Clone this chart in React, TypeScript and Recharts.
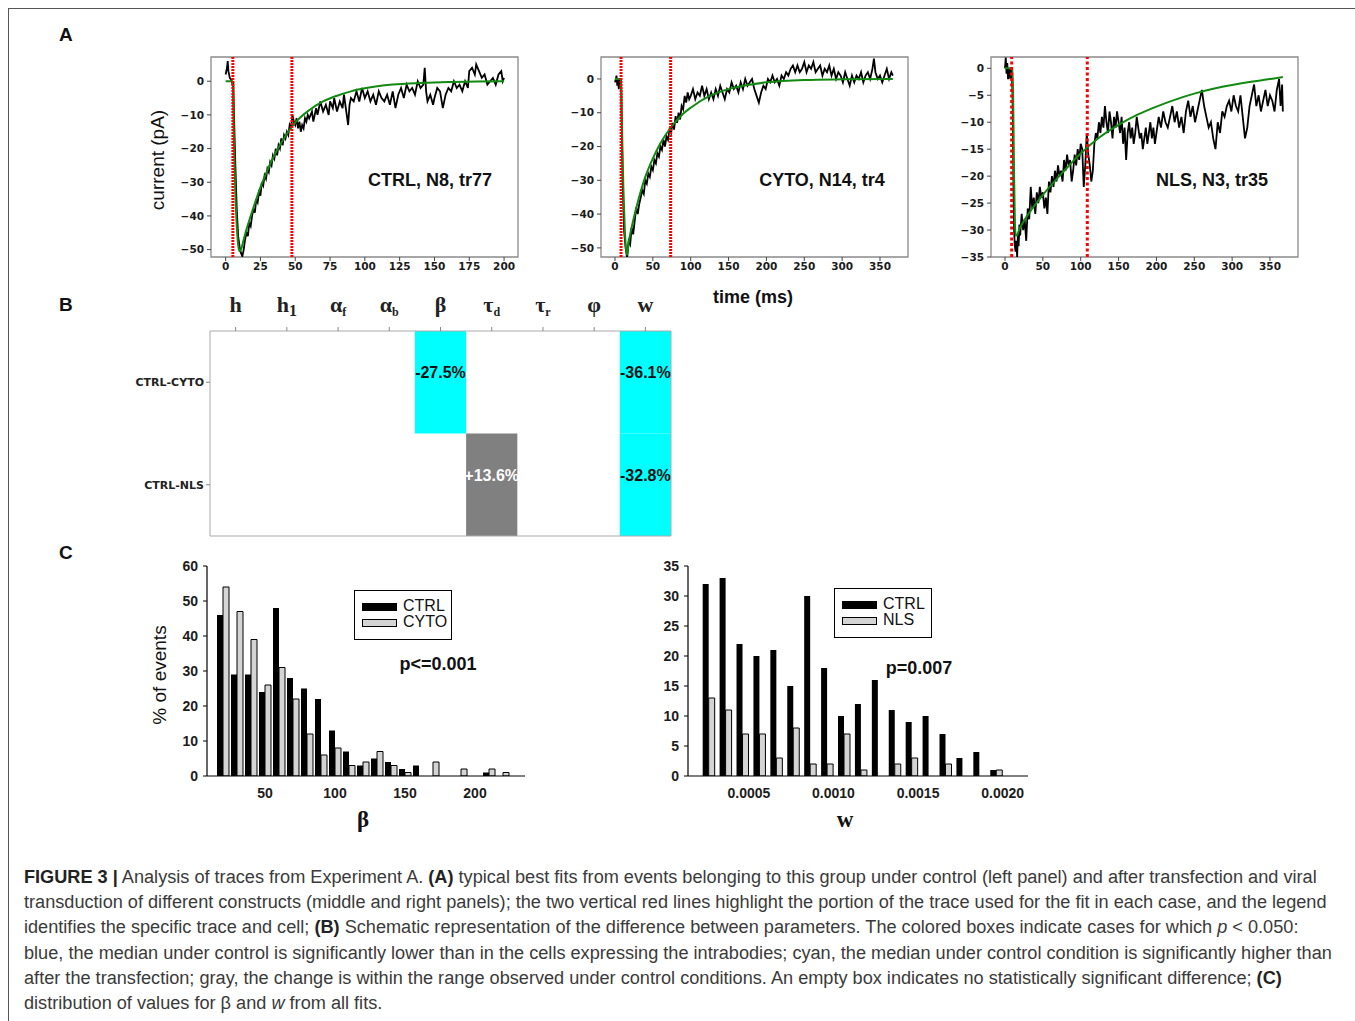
import React from 'react';
import {
  LineChart, Line, XAxis, YAxis, ReferenceLine, ReferenceArea,
  BarChart, Bar, ComposedChart, Scatter,
} from 'recharts';

const SANS = '"Liberation Sans", Arial, Helvetica, sans-serif';
const DEJAVU = '"DejaVu Sans", sans-serif';
const SERIF = '"Liberation Serif", "DejaVu Serif", serif';
const NARROW = '"Liberation Sans Narrow", "Liberation Sans", sans-serif';

// ---------------- Panel A data ----------------
const traceCtrl: number[][] = [
  [0,2],[1,4],[1.5,6],[2,3],[3,1],[4,0.5],[5,-1],[5.5,0],[6,-10],[7,-25],[8,-38],[9,-46],[10,-49],[11,-51],[12,-52],[13,-50],[14,-47],[15,-45],[16,-46],[17,-42],[18,-43],[19,-40],[20,-38],[21,-39],[22,-35],[23,-36],[24,-33],[25,-34],[26,-30],[27,-31],[28,-28],[29,-29],[30,-26],[31,-27],[32,-24],[33,-25],[34,-22],[35,-23],[36,-20],[37,-22],[38,-19],[39,-20],[40,-17],[41,-19],[42,-16],[43,-17],[44,-15],[45,-16],[46,-13],[47,-14],[48,-10],[49,-12],[50,-13],[51,-11],[52,-14],[53,-12],[54,-15],[55,-13],[56,-14],[57,-11],[58,-12],[59,-10],[60,-11],[62,-9],[63,-12],[65,-8],[66,-10],[68,-6],[70,-9],[72,-7],[74,-10],[75,-6],[77,-8],[78,-5],[80,-9],[82,-6],[84,-8],[85,-4],[87,-10],[88,-13],[89,-7],[90,-5],[92,-6],[94,-3],[96,-6],[98,-2],[100,-5],[102,-3],[104,-6],[106,-4],[108,-7],[110,-3],[112,-5],[114,-6],[116,-4],[118,-7],[120,-3],[122,-8],[124,-4],[126,-2],[128,-5],[130,-1],[132,-3],[134,-2],[136,-4],[138,0],[140,-2],[142,-1],[143,4],[144,-3],[145,-6],[147,-4],[149,-7],[150,-5],[152,-2],[154,-3],[156,-8],[158,-4],[160,-2],[162,-3],[164,0],[166,-2],[168,-1],[170,-3],[172,0],[174,-2],[175,3],[177,4],[179,2],[180,5],[182,3],[184,1],[186,2],[188,-1],[190,0],[192,1],[194,-1],[196,2],[198,3],[199,0],[200,1],
];
const fitCtrl: number[][] = [
  [0,0],[5,0],[6,-18],[7,-33],[8,-43],[9,-48.5],[10,-50.5],[11,-50],[13,-47],[15,-44],[20,-37.5],[25,-31.5],[30,-26.5],[35,-22],[40,-18.3],[45,-15],[50,-12.3],[60,-8.6],[70,-6],[80,-4.3],[90,-3],[100,-2.1],[120,-1],[140,-0.5],[160,-0.2],[180,-0.1],[200,0],
];
const traceCyto: number[][] = [
  [0,-1],[2,1],[3,-2],[4,0],[5,-3],[6,0],[7,-1],[8,0],[9,-15],[10,-30],[12,-45],[14,-50],[16,-53],[18,-48],[20,-49],[22,-44],[24,-46],[26,-42],[28,-38],[30,-40],[32,-37],[34,-35],[36,-33],[38,-34],[40,-30],[42,-31],[44,-28],[46,-29],[48,-26],[50,-27],[52,-24],[54,-25],[56,-22],[58,-23],[60,-20],[62,-21],[64,-18],[66,-20],[68,-17],[70,-18],[72,-15],[74,-16],[76,-13],[78,-15],[80,-11],[82,-13],[84,-10],[86,-12],[88,-8],[90,-9],[92,-5],[94,-7],[96,-4],[98,-6],[100,-5],[103,-3],[106,-6],[109,-4],[112,-5],[115,-2],[118,-5],[121,-3],[124,-6],[127,-4],[130,-6],[133,-3],[136,-5],[139,-2],[142,-4],[145,-6],[148,-3],[151,-4],[154,-1],[157,-3],[160,-2],[163,-4],[166,-1],[169,-3],[172,0],[175,-2],[178,-1],[181,0],[184,-3],[187,-5],[190,-7],[193,-4],[196,-2],[199,-3],[202,0],[205,-1],[208,1],[211,-1],[214,0],[217,-2],[220,1],[223,0],[226,2],[229,1],[232,3],[235,4],[238,2],[241,4],[244,2],[247,3],[250,5],[253,2],[256,4],[259,3],[262,5],[265,2],[268,3],[271,4],[274,1],[277,3],[280,2],[283,4],[286,1],[289,3],[292,0],[295,2],[298,1],[301,-1],[304,2],[307,0],[310,-2],[313,1],[316,-1],[319,1],[322,0],[325,2],[328,-1],[331,1],[334,2],[337,0],[340,3],[342,6],[344,2],[347,0],[350,1],[353,-1],[356,1],[359,3],[362,0],[365,2],[367,1],
];
const fitCyto: number[][] = [
  [0,0],[8,0],[9,-12],[11,-32],[13,-45],[15,-51],[16,-52],[18,-48.5],[20,-46],[25,-41],[30,-36.5],[35,-32.5],[40,-29],[50,-23.5],[60,-19],[75,-14],[90,-10.3],[100,-8.5],[125,-5],[150,-3],[175,-1.8],[200,-1],[250,-0.3],[300,-0.1],[367,0],
];
const traceNls: number[][] = [
  [0,0],[1,2],[2,-1],[3,1],[4,-2],[5,0],[6,-1],[7,-2],[8,0],[9,-1],[10,-5],[11,-20],[12,-30],[13,-33],[14,-34],[15,-32],[16,-35],[17,-31],[18,-33],[19,-29],[20,-31],[22,-27],[24,-30],[26,-28],[28,-32],[30,-26],[32,-28],[34,-22],[36,-26],[38,-24],[40,-27],[42,-23],[44,-25],[46,-22],[48,-24],[50,-23],[52,-26],[54,-24],[56,-27],[58,-21],[60,-23],[62,-20],[64,-22],[66,-19],[68,-21],[70,-18],[72,-20],[74,-19],[76,-21],[78,-17],[80,-19],[82,-16],[84,-18],[86,-17],[88,-21],[90,-19],[92,-16],[94,-18],[96,-15],[98,-17],[100,-14],[102,-15],[104,-22],[106,-18],[108,-12],[110,-16],[112,-18],[114,-21],[116,-19],[118,-14],[120,-12],[122,-13],[124,-10],[126,-12],[128,-9],[130,-11],[132,-7],[134,-10],[136,-12],[138,-8],[140,-10],[142,-13],[144,-9],[146,-11],[148,-8],[150,-10],[152,-12],[154,-9],[156,-14],[158,-11],[160,-17],[162,-12],[164,-10],[166,-13],[168,-11],[170,-14],[172,-12],[174,-9],[176,-11],[178,-13],[180,-12],[182,-15],[184,-13],[186,-11],[188,-14],[190,-12],[192,-10],[194,-13],[196,-11],[198,-14],[200,-12],[203,-9],[206,-11],[209,-8],[212,-10],[215,-11],[218,-9],[221,-7],[224,-10],[227,-8],[230,-11],[233,-9],[236,-12],[239,-8],[242,-6],[245,-9],[248,-7],[251,-10],[254,-8],[257,-6],[260,-4],[263,-7],[266,-9],[269,-11],[272,-10],[275,-13],[278,-15],[281,-10],[284,-12],[287,-8],[290,-9],[293,-7],[296,-6],[299,-8],[302,-5],[305,-7],[308,-8],[311,-5],[314,-9],[317,-13],[320,-11],[323,-7],[326,-5],[329,-3],[332,-7],[335,-5],[338,-8],[341,-6],[344,-4],[347,-7],[350,-5],[353,-6],[356,-8],[359,-4],[362,-2],[364,-7],[366,-3],[367,-8],
];
const fitNls: number[][] = [
  [0,0],[10,0],[11,-8],[12,-20],[13,-28],[14,-31],[15,-31],[20,-29.5],[25,-28.3],[50,-23.5],[75,-19.5],[100,-15.8],[125,-12.8],[150,-10.5],[175,-8.6],[200,-7.1],[225,-5.8],[250,-4.7],[275,-3.8],[300,-3.1],[325,-2.5],[350,-2],[367,-1.6],
];
const ticksX200 = [0, 25, 50, 75, 100, 125, 150, 175, 200];
const ticksX350 = [0, 50, 100, 150, 200, 250, 300, 350];
const ticksY50 = [-50, -40, -30, -20, -10, 0];
const ticksY35 = [-35, -30, -25, -20, -15, -10, -5, 0];
const redCtrl = [5.2, 47.6];
const redCyto = [8, 73.5];
const redNls = [8.8, 108.7];

// ---------------- Panel B data ----------------
const paramBase = ['h', 'h', 'α', 'α', 'β', 'τ', 'τ', 'φ', 'w'];
const paramSub = ['', '1', 'f', 'b', '', 'd', 'r', '', ''];
const rowLabels = ['CTRL-CYTO', 'CTRL-NLS'];
const cellRows = [0, 0, 1, 1];
const cellCols = [4, 8, 5, 8];
const cellLabels = ['-27.5%', '-36.1%', '+13.6%', '-32.8%'];
const cellColors = ['#00ffff', '#00ffff', '#808080', '#00ffff'];
const cellTextColors = ['#111', '#111', '#ffffff', '#111'];

// ---------------- Panel C data ----------------
const betaBins = [20, 30, 40, 50, 60, 70, 80, 90, 100, 110, 120, 130, 140, 150, 160, 170, 180, 190, 200, 210, 220];
const betaCtrl = [46, 29, 29, 24, 48, 28, 25, 22, 13, 7, 3, 5, 4, 2, 3, 0, 0, 0, 0, 1, 0];
const betaCyto = [54, 47, 39, 26, 31, 22, 12, 6, 8, 3, 4, 7, 3, 1, 0, 4, 0, 2, 0, 2, 1];
const wBins = [0.000265, 0.000365, 0.000465, 0.000565, 0.000665, 0.000765, 0.000865, 0.000965, 0.001065, 0.001165, 0.001265, 0.001365, 0.001465, 0.001565, 0.001665, 0.001765, 0.001865, 0.001965];
const wCtrl = [32, 33, 22, 20, 21, 15, 30, 18, 10, 12, 16, 11, 9, 10, 7, 3, 4, 1];
const wNls = [13, 11, 7, 7, 3, 8, 2, 2, 7, 1, 0, 2, 3, 0, 2, 0, 0, 1];
const betaTicksX = [50, 100, 150, 200];
const betaTicksY = [0, 10, 20, 30, 40, 50, 60];
const wTicksX = [0.0005, 0.001, 0.0015, 0.002];
const wTicksY = [0, 5, 10, 15, 20, 25, 30, 35];

const toPts = (a: number[][]) => a.map(([x, y]) => ({ x, y }));
const minusFmt = (v: number) => String(v).replace('-', '\u2212');

type Box = { x0: number; y0: number; x1: number; y1: number };

function TracePlot(props: {
  box: Box; trace: number[][]; fit: number[][]; xDomain: number[]; yDomain: number[];
  xTicks: number[]; yTicks: number[]; red: number[]; dash: string;
}) {
  const { box, trace, fit, xDomain, yDomain, xTicks, yTicks, red, dash } = props;
  const w = box.x1 - box.x0 + 60;
  const h = box.y1 - box.y0 + 50;
  const tickStyle = { fontSize: 10.5, fontFamily: DEJAVU, fontWeight: 700, fill: '#1a1a1a' };
  return (
    <div style={{ position: 'absolute', left: box.x0 - 50, top: box.y0 - 10, width: w, height: h }}>
      <LineChart width={w} height={h} margin={{ top: 10, right: 10, left: 5, bottom: 15 }}>
        <XAxis type="number" dataKey="x" domain={xDomain} ticks={xTicks} interval={0} allowDataOverflow
          height={25} axisLine={false} tickSize={4} tickMargin={2} tickLine={{ stroke: '#444' }} tick={tickStyle} />
        <YAxis type="number" dataKey="y" domain={yDomain} ticks={yTicks} interval={0} allowDataOverflow
          width={45} axisLine={false} tickSize={4} tickMargin={3} tickLine={{ stroke: '#444' }} tick={tickStyle}
          tickFormatter={minusFmt} />
        <Line data={toPts(trace)} dataKey="y" type="linear" stroke="#000" strokeWidth={1.8} dot={false} isAnimationActive={false} />
        <Line data={toPts(fit)} dataKey="y" type="monotone" stroke="#108a10" strokeWidth={2} dot={false} isAnimationActive={false} />
        {red.map((r) => (
          <ReferenceLine key={r} x={r} stroke="#ff0000" strokeWidth={3} strokeDasharray={dash} />
        ))}
        <ReferenceArea x1={xDomain[0]} x2={xDomain[1]} y1={yDomain[0]} y2={yDomain[1]}
          fill="none" fillOpacity={0} stroke="#8a8a8a" strokeWidth={1.3} />
      </LineChart>
    </div>
  );
}

function HeaderTick(props: any) {
  const { x, y, payload } = props;
  const i = Math.round(payload.value - 0.5);
  return (
    <text x={x} y={y} textAnchor="middle" fontFamily={SERIF} fontWeight={700} fontSize={22} fill="#222">
      {paramBase[i]}
      {paramSub[i] ? <tspan fontSize={paramSub[i] === '1' ? 16 : 12} dy={4}>{paramSub[i]}</tspan> : null}
    </text>
  );
}

function Heatmap() {
  const box = { x0: 210, y0: 331, x1: 671, y1: 536 };
  const left = 130, top = 280;
  const w = box.x1 - left + 10;
  const h = box.y1 - top + 20;
  const colTicks = paramBase.map((_, i) => i + 0.5);
  const pts = cellRows.map((r, i) => ({ x: cellCols[i] + 0.5, y: r + 0.5 }));
  return (
    <div style={{ position: 'absolute', left, top, width: w, height: h }}>
      <ComposedChart width={w} height={h} margin={{ top: 11, right: 10, left: 0, bottom: 10 }}>
        <XAxis xAxisId="top" orientation="top" type="number" dataKey="x" domain={[0, 9]} ticks={colTicks} interval={0}
          height={40} axisLine={false} tickSize={4} tickMargin={15} tickLine={{ stroke: '#888' }} tick={<HeaderTick />} />
        <XAxis xAxisId="bot" orientation="bottom" type="number" dataKey="x" domain={[0, 9]} ticks={colTicks} interval={0}
          height={10} axisLine={false} tickSize={4} tickLine={{ stroke: '#888' }} tick={false} />
        <YAxis yAxisId="rows" type="number" dataKey="y" domain={[0, 2]} reversed ticks={[0.5, 1.5]} interval={0}
          width={80} axisLine={false} tickSize={4} tickMargin={2} tickLine={{ stroke: '#888' }}
          tick={{ fontSize: 11, fontFamily: DEJAVU, fontWeight: 700, fill: '#222' }}
          tickFormatter={(v: number) => rowLabels[Math.floor(v)]} />
        <Scatter data={pts} xAxisId="top" yAxisId="rows" dataKey="y" shape={() => <g />} isAnimationActive={false} />
        <Scatter data={pts} xAxisId="bot" yAxisId="rows" dataKey="y" shape={() => <g />} isAnimationActive={false} />
        {cellRows.map((r, i) => (
          <ReferenceArea key={i} xAxisId="top" yAxisId="rows" x1={cellCols[i]} x2={cellCols[i] + 1} y1={r} y2={r + 1}
            fill={cellColors[i]} fillOpacity={1} stroke="none"
            label={{ value: cellLabels[i], position: 'insideTop', offset: 36, fill: cellTextColors[i], fontSize: 16,
              fontFamily: NARROW, fontWeight: 700 }} />
        ))}
        <ReferenceArea xAxisId="top" yAxisId="rows" x1={0} x2={9} y1={0} y2={2} fill="none" fillOpacity={0}
          stroke="#aaa" strokeWidth={1} />
      </ComposedChart>
    </div>
  );
}

function Histogram(props: {
  box: Box; bins: number[]; a: number[]; b: number[]; xDomain: number[]; yDomain: number[];
  xTicks: number[]; yTicks: number[]; fmt: (v: number) => string; yAxisW: number;
}) {
  const { box, bins, a, b, xDomain, yDomain, xTicks, yTicks, fmt, yAxisW } = props;
  const left = box.x0 - yAxisW - 15, top = box.y0 - 16;
  const w = box.x1 - left + 15;
  const h = box.y1 - top + 40;
  const data = bins.map((x, i) => ({ x, a: a[i], b: b[i] }));
  const tickStyle = { fontSize: 14, fontFamily: SANS, fontWeight: 700, fill: '#1c1c1c' };
  return (
    <div style={{ position: 'absolute', left, top, width: w, height: h }}>
      <BarChart width={w} height={h} data={data} barGap={0} margin={{ top: 16, right: 15, left: 15, bottom: 10 }}>
        <XAxis type="number" dataKey="x" domain={xDomain} ticks={xTicks} interval={0} allowDataOverflow
          height={30} axisLine={{ stroke: '#000', strokeWidth: 1.2 }} tickLine={false} tickSize={6} tickMargin={6}
          tick={tickStyle} tickFormatter={fmt} />
        <YAxis type="number" domain={yDomain} ticks={yTicks} interval={0} allowDataOverflow width={yAxisW}
          axisLine={{ stroke: '#000', strokeWidth: 1.2 }} tickSize={4} tickMargin={5} tickLine={{ stroke: '#000' }}
          tick={tickStyle} />
        <Bar dataKey="a" fill="#000" barSize={6} isAnimationActive={false} />
        <Bar dataKey="b" fill="#d4d4d4" stroke="#000" strokeWidth={1} barSize={6} isAnimationActive={false} />
      </BarChart>
    </div>
  );
}

function HistLegend(props: { left: number; top: number; names: string[]; colors: string[] }) {
  const { left, top, names, colors } = props;
  return (
    <div style={{ position: 'absolute', left, top, width: 98, height: 50, border: '1.5px solid #000', boxSizing: 'border-box', background: '#fff' }}>
      {names.map((n, i) => (
        <div key={n} style={{ position: 'absolute', left: 7, top: 12 + i * 16, width: 90, height: 9 }}>
          <div style={{ position: 'absolute', left: 0, top: 0, width: 35, height: 8, background: colors[i], border: '1px solid #000', boxSizing: 'border-box' }} />
          <span style={{ position: 'absolute', left: 41, top: -6, fontSize: 16, lineHeight: '18px', fontFamily: SANS, color: '#111', whiteSpace: 'nowrap' }}>{n}</span>
        </div>
      ))}
    </div>
  );
}

const abs = (left: number, top: number, extra: React.CSSProperties = {}): React.CSSProperties => ({
  position: 'absolute', left, top, whiteSpace: 'nowrap', ...extra,
});

export default function App() {
  const capStyle: React.CSSProperties = { fontFamily: SANS, fontSize: 18.15, color: '#3a3a3a', lineHeight: '25.2px', whiteSpace: 'nowrap' };
  const B = (t: string) => <b style={{ color: '#222' }}>{t}</b>;
  return (
    <div style={{ position: 'absolute', left: 0, top: 0, width: 1355, height: 1021, background: '#fff', overflow: 'hidden', fontFamily: SANS }}>
      <div style={{ position: 'absolute', left: 8, top: 8, width: 1360, height: 1020, borderTop: '1.5px solid #555', borderLeft: '1.5px solid #555' }} />

      {/* Panel labels */}
      <div style={abs(59, 24, { fontSize: 19, fontWeight: 700, color: '#111' })}>A</div>
      <div style={abs(59, 294, { fontSize: 19, fontWeight: 700, color: '#111' })}>B</div>
      <div style={abs(59, 542, { fontSize: 19, fontWeight: 700, color: '#111' })}>C</div>

      {/* Panel A */}
      <TracePlot box={{ x0: 211, y0: 57, x1: 518, y1: 257 }} trace={traceCtrl} fit={fitCtrl}
        xDomain={[-10.5, 210]} yDomain={[-52.2, 7.2]} xTicks={ticksX200} yTicks={ticksY50} red={redCtrl} dash="2 1" />
      <TracePlot box={{ x0: 601, y0: 57, x1: 908, y1: 257 }} trace={traceCyto} fit={fitCyto}
        xDomain={[-18.5, 387]} yDomain={[-52.7, 6.5]} xTicks={ticksX350} yTicks={ticksY50} red={redCyto} dash="2 1" />
      <TracePlot box={{ x0: 991, y0: 57, x1: 1298, y1: 257 }} trace={traceNls} fit={fitNls}
        xDomain={[-18.5, 387]} yDomain={[-35, 2.1]} xTicks={ticksX350} yTicks={ticksY35} red={redNls} dash="3 2.5" />
      <div style={abs(158, 160, { fontSize: 19, color: '#111', transform: 'translate(-50%, -50%) rotate(-90deg)' })}>current (pA)</div>
      <div style={abs(430, 180, { fontSize: 18, fontWeight: 700, color: '#111', transform: 'translate(-50%, -50%)' })}>CTRL, N8, tr77</div>
      <div style={abs(822, 180, { fontSize: 18, fontWeight: 700, color: '#111', transform: 'translate(-50%, -50%)' })}>CYTO, N14, tr4</div>
      <div style={abs(1212, 180, { fontSize: 18, fontWeight: 700, color: '#111', transform: 'translate(-50%, -50%)' })}>NLS, N3, tr35</div>
      <div style={abs(753, 297, { fontSize: 18, fontWeight: 700, color: '#111', transform: 'translate(-50%, -50%)' })}>time (ms)</div>

      {/* Panel B */}
      <Heatmap />

      {/* Panel C */}
      <Histogram box={{ x0: 207, y0: 566, x1: 525, y1: 776 }} bins={betaBins} a={betaCtrl} b={betaCyto}
        xDomain={[8.57, 235.7]} yDomain={[0, 60]} xTicks={betaTicksX} yTicks={betaTicksY} fmt={(v) => String(v)} yAxisW={45} />
      <Histogram box={{ x0: 688, y0: 566, x1: 1028, y1: 776 }} bins={wBins} a={wCtrl} b={wNls}
        xDomain={[0.00014, 0.00215]} yDomain={[0, 35]} xTicks={wTicksX} yTicks={wTicksY} fmt={(v) => v.toFixed(4)} yAxisW={45} />
      <HistLegend left={354} top={590} names={['CTRL', 'CYTO']} colors={['#000', '#d4d4d4']} />
      <HistLegend left={834} top={588} names={['CTRL', 'NLS']} colors={['#000', '#d4d4d4']} />
      <div style={abs(438, 664, { fontSize: 18, fontWeight: 700, color: '#111', transform: 'translate(-50%, -50%)' })}>p&lt;=0.001</div>
      <div style={abs(919, 668, { fontSize: 18, fontWeight: 700, color: '#111', transform: 'translate(-50%, -50%)' })}>p=0.007</div>
      <div style={abs(160, 675, { fontSize: 19, color: '#111', transform: 'translate(-50%, -50%) rotate(-90deg)' })}>% of events</div>
      <div style={abs(363, 820, { fontSize: 23, fontWeight: 700, fontFamily: SERIF, color: '#111', transform: 'translate(-50%, -50%)' })}>β</div>
      <div style={abs(845, 820, { fontSize: 23, fontWeight: 700, fontFamily: SERIF, color: '#111', transform: 'translate(-50%, -50%)' })}>w</div>

      {/* Caption */}
      <div style={{ position: 'absolute', left: 24, top: 865, ...capStyle }}>
        <div>{B('FIGURE 3 |')} Analysis of traces from Experiment A. {B('(A)')} typical best fits from events belonging to this group under control (left panel) and after transfection and viral</div>
        <div>transduction of different constructs (middle and right panels); the two vertical red lines highlight the portion of the trace used for the fit in each case, and the legend</div>
        <div>identifies the specific trace and cell; {B('(B)')} Schematic representation of the difference between parameters. The colored boxes indicate cases for which <i>p</i> &lt; 0.050:</div>
        <div>blue, the median under control is significantly lower than in the cells expressing the intrabodies; cyan, the median under control condition is significantly higher than</div>
        <div>after the transfection; gray, the change is within the range observed under control conditions. An empty box indicates no statistically significant difference; {B('(C)')}</div>
        <div>distribution of values for β and <i>w</i> from all fits.</div>
      </div>
    </div>
  );
}
